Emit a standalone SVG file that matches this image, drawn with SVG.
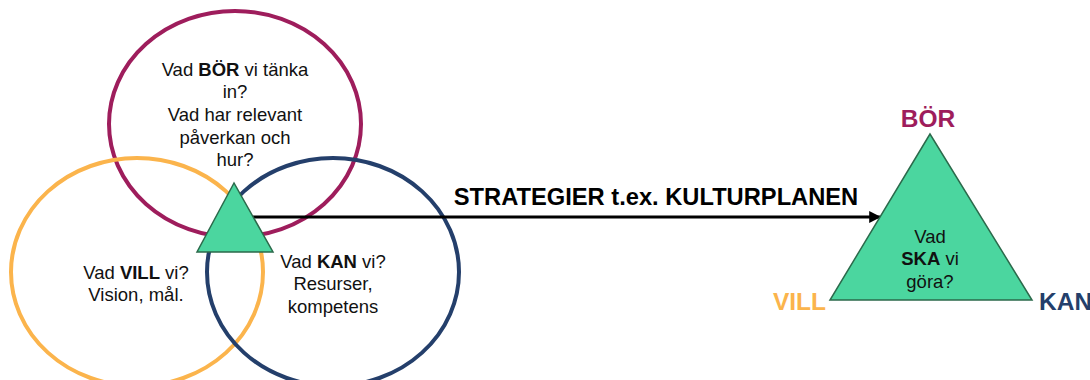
<svg xmlns="http://www.w3.org/2000/svg" width="1090" height="380" viewBox="0 0 1090 380">
<style>
.t{font-family:"Liberation Sans",Arial,sans-serif;font-size:18.5px;fill:#111;text-anchor:middle}
.b{font-weight:bold}
.c{fill:none;stroke-width:4}
.tri{fill:#4bd69f;stroke:#2b6a4b;stroke-width:1.5}
.lbl{font-family:"Liberation Sans",Arial,sans-serif;font-size:24.5px;font-weight:bold}
.strat{font-size:23.7px;fill:#000}
</style>
<defs>
<marker id="ah" viewBox="0 0 10 10" refX="9" refY="5" markerWidth="4" markerHeight="4" orient="auto" markerUnits="strokeWidth">
<path d="M0,0 L10,5 L0,10 z" fill="#000"/>
</marker>
</defs>
<rect width="1090" height="380" fill="#fff"/>
<g id="bor-circle">
<ellipse class="c" cx="235" cy="124" rx="126" ry="113" stroke="#9e1d5c"/>
<text class="t" x="235" y="76">Vad <tspan class="b">BÖR</tspan> vi tänka</text>
<text class="t" x="235" y="98">in?</text>
<text class="t" x="235" y="121">Vad har relevant</text>
<text class="t" x="235" y="144">påverkan och</text>
<text class="t" x="235" y="166">hur?</text>
</g>
<g id="vill-circle">
<ellipse class="c" cx="137" cy="272" rx="126" ry="114" stroke="#fbb44c"/>
<text class="t" x="136" y="279">Vad <tspan class="b">VILL</tspan> vi?</text>
<text class="t" x="136" y="301">Vision, mål.</text>
</g>
<g id="kan-circle">
<ellipse class="c" cx="333" cy="272" rx="126" ry="114" stroke="#243f6b"/>
<text class="t" x="333" y="268">Vad <tspan class="b">KAN</tspan> vi?</text>
<text class="t" x="333" y="290">Resurser,</text>
<text class="t" x="333" y="313">kompetens</text>
</g>
<g id="connectors">
<line x1="252" y1="217" x2="880" y2="217" stroke="#000" stroke-width="3" marker-end="url(#ah)"/>
<text class="lbl strat" x="656" y="205" text-anchor="middle">STRATEGIER t.ex. KULTURPLANEN</text>
</g>
<g id="small-triangle">
<polygon class="tri" points="234,183 197,252 273,252"/>
</g>
<g id="ska-triangle">
<polygon class="tri" points="930,134 830,300 1032,300"/>
<text class="t" x="930" y="243">Vad</text>
<text class="t" x="930" y="265"><tspan class="b">SKA</tspan> vi</text>
<text class="t" x="930" y="288">göra?</text>
<text class="lbl" x="928" y="127" text-anchor="middle" fill="#9e1d5c">BÖR</text>
<text class="lbl" x="826" y="310" text-anchor="end" fill="#fbb44c">VILL</text>
<text class="lbl" x="1039" y="310" fill="#243f6b">KAN</text>
</g>
</svg>
